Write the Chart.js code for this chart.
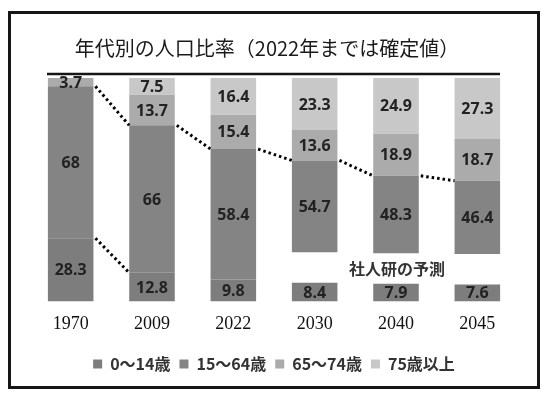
<!DOCTYPE html>
<html>
<head>
<meta charset="utf-8">
<script src="https://cdn.jsdelivr.net/npm/chart.js@4.4.1/dist/chart.umd.min.js"></script>
<style>
    body { margin: 0; background: #fff; }
</style>
</head>
<body>
<canvas id="population" width="548" height="398"></canvas>
<script>
const years = ["1970", "2009", "2022", "2030", "2040", "2045"];
const age0to14 = [28.3, 12.8, 9.8, 8.4, 7.9, 7.6];
const age15to64 = [68, 66, 58.4, 54.7, 48.3, 46.4];
const age65to74 = [3.7, 13.7, 15.4, 13.6, 18.9, 18.7];
const age75over = [null, 7.5, 16.4, 23.3, 24.9, 27.3];
const isForecast = [false, false, false, true, true, true];
const seriesNames = ["0〜14歳", "15〜64歳", "65〜74歳", "75歳以上"];
const titleText = "年代別の人口比率（2022年までは確定値）";
const forecastNote = "社人研の予測";

// 予測の年は0〜14歳と15〜64歳の間をあけて、そこに注記を置く
const forecastGap = 13.6;

function makeRanges() {
    let kids = [], work = [], old65 = [], old75 = [];
    for (let i = 0; i < years.length; i++) {
        const s75 = age75over[i] || 0;
        const top75 = 100;
        const top65 = top75 - s75;
        const topWork = top65 - age65to74[i];
        kids.push([0, age0to14[i]]);
        work.push([age0to14[i] + (isForecast[i] ? forecastGap : 0), topWork]);
        old65.push([topWork, top65]);
        old75.push(age75over[i] == null ? null : [top65, top75]);
    }
    return [kids, work, old65, old75];
}

const ranges = makeRanges();
const rawValues = [age0to14, age15to64, age65to74, age75over];
const colors = ["#7d7d7d", "#848484", "#ababab", "#c8c8c8"];

// 枠・タイトル・注記
const framePlugin = {
    id: "frame",
    beforeDraw(chart) {
        const ctx = chart.ctx;
        ctx.save();
        ctx.fillStyle = "#fff";
        ctx.fillRect(0, 0, chart.width, chart.height);
        ctx.strokeStyle = "#161616";
        ctx.lineWidth = 3;
        ctx.strokeRect(9.5, 12.5, 529, 375);
        ctx.fillStyle = "#1a1a1a";
        ctx.font = "20px 'Noto Sans CJK JP'";
        ctx.textAlign = "center";
        ctx.textBaseline = "middle";
        ctx.fillText(titleText, 267, 48);
        ctx.beginPath();
        ctx.lineWidth = 2.5;
        ctx.moveTo(47, 74);
        ctx.lineTo(500, 74);
        ctx.stroke();
        ctx.restore();
    },
    afterDraw(chart) {
        const ctx = chart.ctx;
        ctx.save();
        ctx.fillStyle = "#333";
        ctx.font = "bold 16px 'Noto Sans CJK JP'";
        ctx.textAlign = "center";
        ctx.textBaseline = "middle";
        ctx.fillText(forecastNote, 397, 269);
        ctx.restore();
    }
};

// 各区分の数値
const valuePlugin = {
    id: "values",
    afterDatasetsDraw(chart) {
        const ctx = chart.ctx;
        ctx.save();
        ctx.fillStyle = "#222";
        ctx.font = "bold 16px 'Noto Sans'";
        ctx.textAlign = "center";
        ctx.textBaseline = "middle";
        chart.data.datasets.forEach((ds, d) => {
            const meta = chart.getDatasetMeta(d);
            meta.data.forEach((bar, i) => {
                const v = rawValues[d][i];
                if (v == null) return;
                ctx.fillText(String(v), bar.x, (bar.y + bar.base) / 2 + 1);
            });
        });
        ctx.restore();
    }
};

// 点線（15〜64歳の上端、1970→2009は0〜14歳の上端も）
const dotLinePlugin = {
    id: "dots",
    afterDatasetsDraw(chart) {
        const ctx = chart.ctx;
        const y = chart.scales.y;
        const bars = chart.getDatasetMeta(1).data;
        ctx.save();
        ctx.strokeStyle = "#000";
        ctx.lineWidth = 3;
        ctx.setLineDash([2.5, 3]);
        for (let i = 0; i < years.length - 1; i++) {
            const a = bars[i], b = bars[i + 1];
            ctx.beginPath();
            ctx.moveTo(a.x + a.width / 2 + 2, y.getPixelForValue(ranges[1][i][1]));
            ctx.lineTo(b.x - b.width / 2, y.getPixelForValue(ranges[1][i + 1][1]));
            ctx.stroke();
        }
        const a = bars[0], b = bars[1];
        ctx.beginPath();
        ctx.moveTo(a.x + a.width / 2 + 2, y.getPixelForValue(age0to14[0]));
        ctx.lineTo(b.x - b.width / 2, y.getPixelForValue(age0to14[1]));
        ctx.stroke();
        ctx.restore();
    }
};

const ctx = document.getElementById("population").getContext("2d");
const chart = new Chart(ctx, {
    type: "bar",
    data: {
        labels: years,
        datasets: seriesNames.map((name, d) => ({
            label: name,
            data: ranges[d],
            backgroundColor: colors[d],
            borderSkipped: false,
            grouped: false,
            barPercentage: 0.56,
            categoryPercentage: 1
        }))
    },
    options: {
        responsive: false,
        animation: false,
        devicePixelRatio: 1,
        layout: {
            padding: { left: 30, right: 30, top: 78, bottom: 16 }
        },
        plugins: {
            tooltip: { enabled: false },
            legend: {
                position: "bottom",
                labels: {
                    boxWidth: 9,
                    boxHeight: 9,
                    padding: 9,
                    color: "#333",
                    font: { family: "'Noto Sans CJK JP'", size: 16, weight: "bold" }
                }
            }
        },
        scales: {
            x: {
                grid: { display: false, drawTicks: false },
                border: { display: false },
                ticks: {
                    padding: 12,
                    color: "#111",
                    font: { family: "'Liberation Serif'", size: 18 }
                }
            },
            y: {
                display: false,
                min: 0,
                max: 100
            }
        }
    },
    plugins: [framePlugin, valuePlugin, dotLinePlugin]
});
</script>
</body>
</html>
